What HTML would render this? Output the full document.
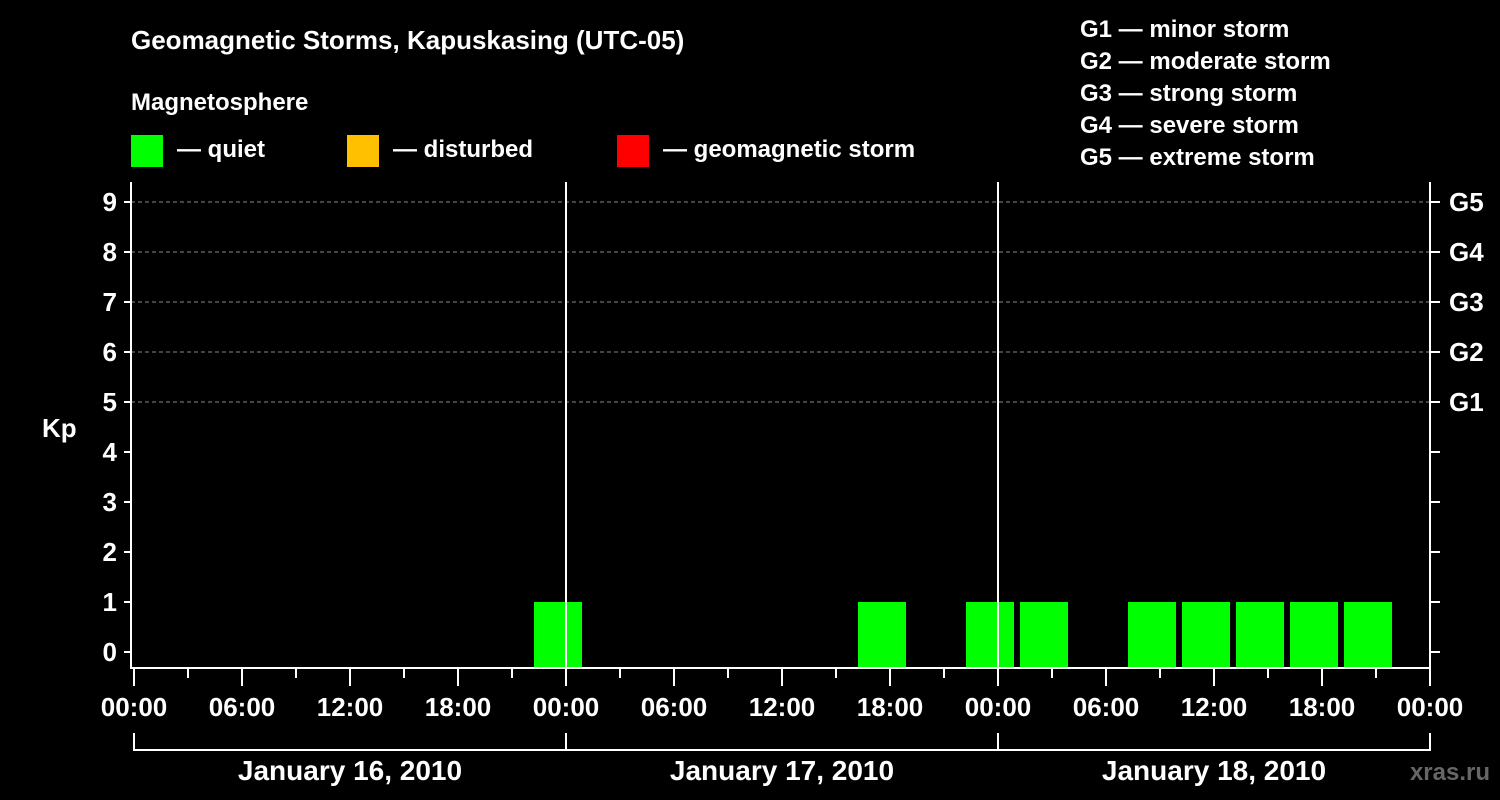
<!DOCTYPE html>
<html><head><meta charset="utf-8"><style>
html,body{margin:0;padding:0;background:#000;}
svg{display:block;font-family:"Liberation Sans",Arial,sans-serif;font-weight:bold;}
</style></head><body>
<svg id="chart" width="1500" height="800" viewBox="0 0 1500 800">
<rect x="0" y="0" width="1500" height="800" fill="#000"/>
<text x="131" y="49" fill="#fff" font-size="26">Geomagnetic Storms, Kapuskasing (UTC-05)</text>
<text x="131" y="110" fill="#fff" font-size="24">Magnetosphere</text>
<g><rect x="131" y="135" width="32" height="32" fill="#00ff00"/><text x="177" y="157" fill="#fff" font-size="24">— quiet</text></g>
<g><rect x="347" y="135" width="32" height="32" fill="#ffc000"/><text x="393" y="157" fill="#fff" font-size="24">— disturbed</text></g>
<g><rect x="617" y="135" width="32" height="32" fill="#ff0000"/><text x="663" y="157" fill="#fff" font-size="24">— geomagnetic storm</text></g>
<g fill="#fff" font-size="24">
<text x="1080" y="37">G1 — minor storm</text>
<text x="1080" y="69">G2 — moderate storm</text>
<text x="1080" y="101">G3 — strong storm</text>
<text x="1080" y="133">G4 — severe storm</text>
<text x="1080" y="165">G5 — extreme storm</text>
</g>
<text x="42" y="437" fill="#fff" font-size="26">Kp</text>
<text x="1490" y="780" fill="#666" font-size="24" text-anchor="end">xras.ru</text>
<g id="plot"></g>
</svg>
<script>
const kpTicks = [0,1,2,3,4,5,6,7,8,9];
const gLabels = ["G1","G2","G3","G4","G5"];
const dayLabels = ["January 16, 2010","January 17, 2010","January 18, 2010"];
const hourLabels = ["00:00","06:00","12:00","18:00"];
// bars: start hour offset (from Jan 16 00:00 local) and Kp value
const barStartHours = [21, 39, 45, 48, 54, 57, 60, 63, 66];
const barKp = [1, 1, 1, 1, 1, 1, 1, 1, 1];

const NS = "http://www.w3.org/2000/svg";
const g = document.getElementById('plot');
const X0 = 134, PXH = 18, FL = 131, FR = 1430, FT = 182, FB = 668;
const xs = h => X0 + h * PXH;
const ys = k => 652 - k * 50;
function el(tag, attrs, parent) {
  const e = document.createElementNS(NS, tag);
  for (const k in attrs) e.setAttribute(k, attrs[k]);
  (parent || g).appendChild(e);
  return e;
}
// grid lines 5..9
kpTicks.forEach(k => {
  if (k >= 5) {
    const l = el('line', {x1: FL, x2: FR, y1: ys(k), y2: ys(k), stroke: '#888', 'stroke-dasharray': '4,3', 'stroke-width': 1});
    
    
  }
  const t = el('line', {x1: 124, x2: FL, y1: ys(k), y2: ys(k), stroke: '#fff', 'stroke-width': 2});
  
  
  const t2 = el('line', {x1: FR, x2: 1440, y1: ys(k), y2: ys(k), stroke: '#fff', 'stroke-width': 2});
  
  
  const tx = el('text', {x: 117, y: ys(k) + 9, fill: '#fff', 'font-size': 26, 'text-anchor': 'end'});
  tx.textContent = k;
  
  
});
gLabels.forEach((lab, i) => {
  const t = el('text', {x: 1449, y: ys(5 + i) + 9, fill: '#fff', 'font-size': 26});
  t.textContent = lab;
  
  
});
// bars
barStartHours.forEach((h, i) => {
  const x = xs(h) + 22;
  const r = el('rect', {x: x, y: ys(barKp[i]), width: 48, height: FB - ys(barKp[i]), fill: barKp[i] >= 5 ? '#ff0000' : (barKp[i] >= 4 ? '#ffc000' : '#00ff00')});
  
  
});
// day separators
[1, 2].forEach(d => {
  const l = el('line', {x1: xs(d*24), x2: xs(d*24), y1: FT, y2: FB, stroke: '#fff', 'stroke-width': 2});
  
  
});
// frame
const fr = el('path', {d: `M${FL},${FT} L${FL},${FB} L${FR},${FB} L${FR},${FT}`, fill: 'none', stroke: '#fff', 'stroke-width': 2});


// x ticks
for (let h = 0; h <= 72; h += 3) {
  const major = h % 6 === 0;
  const t = el('line', {x1: xs(h), x2: xs(h), y1: FB, y2: major ? 686 : 678, stroke: '#fff', 'stroke-width': 2});
  
  
  if (major) {
    const tx = el('text', {x: xs(h), y: 716, fill: '#fff', 'font-size': 26, 'text-anchor': 'middle'});
    tx.textContent = hourLabels[(h / 6) % 4];
    
    
  }
}
// day brackets
dayLabels.forEach((lab, d) => {
  const a = xs(d*24), b = xs(d*24 + 24);
  const p = el('path', {d: `M${a},733 L${a},750 L${b},750 L${b},733`, fill: 'none', stroke: '#fff', 'stroke-width': 2});
  
  
  const t = el('text', {x: (a + b) / 2, y: 780, fill: '#fff', 'font-size': 28, 'text-anchor': 'middle'});
  t.textContent = lab;
  
  
});
</script>
</body></html>
